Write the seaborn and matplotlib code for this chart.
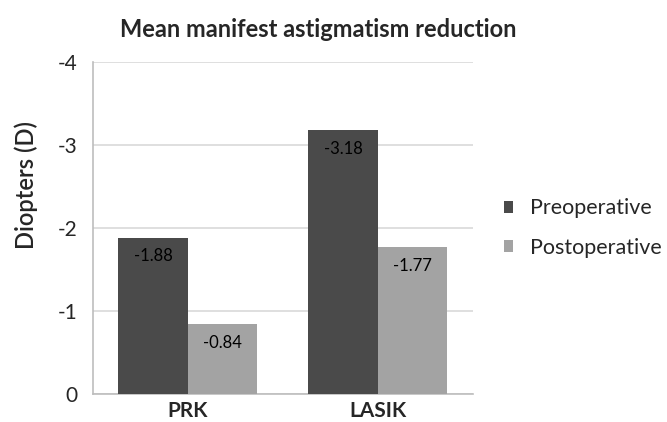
import pandas as pd
import matplotlib.pyplot as plt
import seaborn as sns

procedures = ["PRK", "LASIK"]
preoperative = [-1.88, -3.18]
postoperative = [-0.84, -1.77]
series_names = ["Preoperative", "Postoperative"]
y_ticks = [0, -1, -2, -3, -4]

df = pd.DataFrame({
    "Procedure": procedures * 2,
    "Value": preoperative + postoperative,
    "Series": [series_names[0]] * 2 + [series_names[1]] * 2,
})

sns.set_style("white")
plt.rcParams['font.family'] = ['Lato', 'DejaVu Sans']

fig = plt.figure(figsize=(6.67, 4.22), dpi=100)
ax = fig.add_axes([0.139, 0.066, 0.57, 0.787])

sns.barplot(
    data=df, x="Procedure", y="Value", hue="Series",
    palette=["#4a4a4a", "#a3a3a3"], width=0.73,
    saturation=1, linewidth=0, ax=ax, zorder=3
)

ax.set_ylim(0, -4)
ax.set_yticks(y_ticks)
ax.set_yticklabels([str(t) for t in y_ticks], fontsize=15)
ax.yaxis.grid(True, color="#d9d9d9", linewidth=1.2, zorder=0)
ax.set_axisbelow(True)

for side in ["top", "right"]:
    ax.spines[side].set_visible(False)
for side in ["left", "bottom"]:
    ax.spines[side].set_color("#bdbdbd")
    ax.spines[side].set_linewidth(1.2)

ax.tick_params(axis="y", length=0, pad=11)
ax.tick_params(axis="x", length=0, pad=5)
for lbl in ax.get_xticklabels():
    lbl.set_fontweight("bold")
    lbl.set_fontsize(15)

ax.set_xlabel("")
ax.set_ylabel("Diopters (D)", fontsize=17, fontweight="semibold")
ax.yaxis.set_label_coords(-0.143, 0.63)

for container in ax.containers:
    ax.bar_label(container, fmt="%.2f", label_type="edge", padding=-19,
                 fontsize=12, color="black")

fig.text(0.477, 0.93, "Mean manifest astigmatism reduction",
         ha="center", va="center", fontsize=17, fontweight="bold")

handles, labels = ax.get_legend_handles_labels()
ax.legend(handles, labels, loc="center left", bbox_to_anchor=(1.03, 0.5),
          frameon=False, fontsize=15.5, handlelength=0.45, handleheight=0.45,
          handletextpad=0.75, labelspacing=0.9)

fig.savefig("out.png", dpi=100)
